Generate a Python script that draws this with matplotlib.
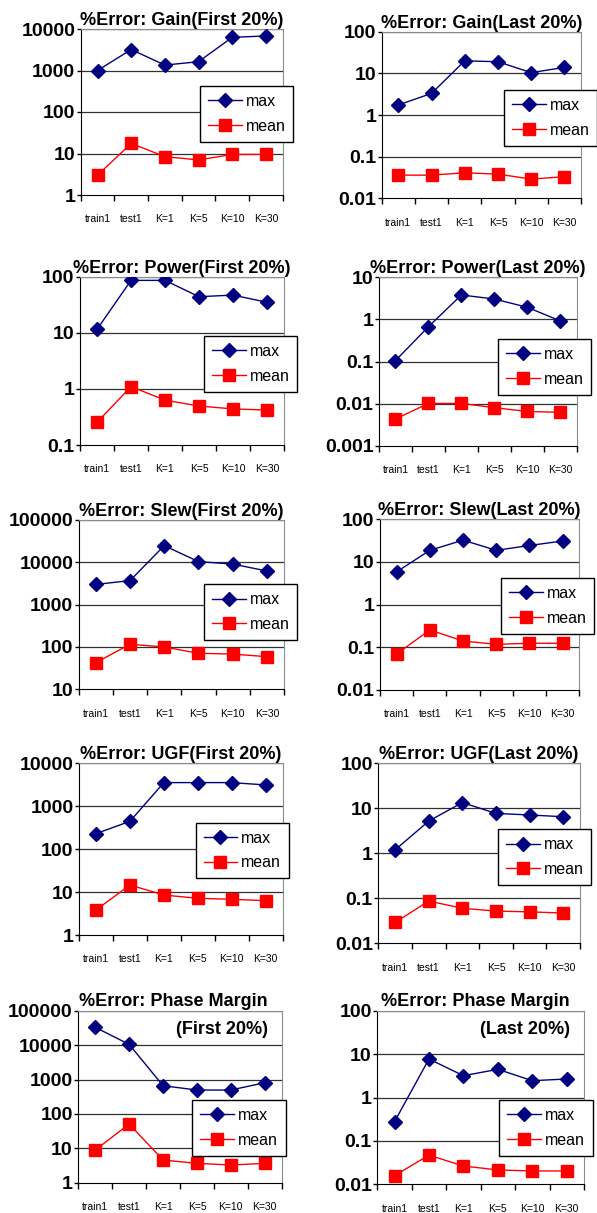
import matplotlib
matplotlib.use("Agg")
import matplotlib.pyplot as plt
from matplotlib.ticker import FixedLocator, NullLocator

plt.rcParams['font.family'] = ['Liberation Sans', 'DejaVu Sans']

# ---- data ----
categories = ["train1", "test1", "K=1", "K=5", "K=10", "K=30"]

gain_first_max = [1000, 3200, 1350, 1630, 6300, 6800]
gain_first_mean = [3.0, 17.5, 8.4, 7.0, 9.5, 9.5]
gain_last_max = [1.74, 3.3, 20, 19, 10.4, 13.9]
gain_last_mean = [0.036, 0.036, 0.041, 0.038, 0.029, 0.033]

power_first_max = [11.5, 86, 86, 44, 47, 35]
power_first_mean = [0.253, 1.1, 0.63, 0.495, 0.44, 0.42]
power_last_max = [0.105, 0.67, 3.8, 3.05, 1.94, 0.92]
power_last_mean = [0.0043, 0.0101, 0.0101, 0.008, 0.0065, 0.0062]

slew_first_max = [3000, 3700, 24800, 10400, 9100, 6240]
slew_first_mean = [42.6, 116, 100, 71, 68, 59]
slew_last_max = [5.8, 18.5, 32, 18.5, 24, 30.6]
slew_last_mean = [0.0695, 0.254, 0.14, 0.117, 0.124, 0.124]

ugf_first_max = [230, 445, 3550, 3550, 3550, 3130]
ugf_first_mean = [3.83, 14.6, 8.55, 7.15, 6.8, 6.3]
ugf_last_max = [1.19, 5.2, 13.4, 7.7, 7.1, 6.5]
ugf_last_mean = [0.029, 0.087, 0.060, 0.052, 0.050, 0.047]

pm_first_max = [32800, 10500, 660, 494, 494, 807]
pm_first_mean = [8.9, 50.7, 4.56, 3.65, 3.27, 3.65]
pm_last_max = [0.277, 7.7, 3.18, 4.46, 2.44, 2.67]
pm_last_mean = [0.0158, 0.047, 0.0264, 0.0214, 0.0203, 0.0203]

titles = ["%Error: Gain(First 20%)", "%Error: Gain(Last 20%)",
          "%Error: Power(First 20%)", "%Error: Power(Last 20%)",
          "%Error: Slew(First 20%)", "%Error: Slew(Last 20%)",
          "%Error: UGF(First 20%)", "%Error: UGF(Last 20%)",
          "%Error: Phase Margin", "%Error: Phase Margin"]
subtitles = [None] * 8 + ["(First 20%)", "(Last 20%)"]

max_series = [gain_first_max, gain_last_max, power_first_max, power_last_max,
              slew_first_max, slew_last_max, ugf_first_max, ugf_last_max,
              pm_first_max, pm_last_max]
mean_series = [gain_first_mean, gain_last_mean, power_first_mean, power_last_mean,
               slew_first_mean, slew_last_mean, ugf_first_mean, ugf_last_mean,
               pm_first_mean, pm_last_mean]
ylims = [(1, 1e4), (0.01, 100), (0.1, 100), (0.001, 10), (10, 1e5),
         (0.01, 100), (1, 1e4), (0.01, 100), (1, 1e5), (0.01, 100)]

# ---- layout (pixels) ----
W, H = 597, 1213
# left, right, top, bottom of each plot area
boxes = [(80.7, 282.7, 29, 195), (381.7, 581, 31.7, 198.3),
         (80, 284, 276.7, 445), (379, 576.7, 277.3, 445.7),
         (78.7, 284, 520, 689.3), (380, 579.3, 519, 690),
         (79, 282.7, 763.3, 935), (378.3, 580, 763.3, 943.3),
         (78.3, 281.7, 1010.7, 1182.7), (377.3, 584, 1010.7, 1184.3)]
# legend upper-left corners
legpos = [(200, 86), (504, 90), (204, 336), (498, 339), (204, 584.3),
          (501, 578), (195.7, 822.7), (498, 829.3), (192.3, 1100), (499.3, 1100)]
# right edge of the two-line phase margin titles
pm_title_right = {8: 268, 9: 570}

fig = plt.figure(figsize=(W / 100, H / 100), dpi=100)

xpos = [i + 0.5 for i in range(len(categories))]

for i in range(10):
    l, r, t, b = boxes[i]
    ax = fig.add_axes([l / W, 1 - b / H, (r - l) / W, (b - t) / H])
    ax.set_yscale('log')
    lo, hi = ylims[i]
    ax.set_ylim(lo, hi)
    ax.set_xlim(0, 6)

    decades = []
    v = lo
    while v <= hi * 1.001:
        decades.append(v)
        v *= 10
    ax.yaxis.set_major_locator(FixedLocator(decades))
    ax.yaxis.set_minor_locator(NullLocator())
    ax.set_yticklabels(["{:g}".format(d) for d in decades])
    for d in decades[1:]:
        ax.axhline(d, color='#303030', lw=0.9, zorder=1)

    ax.set_xticks(range(7))
    ax.set_xticklabels([])
    ax.set_xticks(xpos, minor=True)
    ax.set_xticklabels(categories, minor=True)
    ax.tick_params(axis='x', which='major', length=4, width=1, direction='out')
    ax.tick_params(axis='x', which='minor', length=0, pad=14, labelsize=7.5)
    ax.tick_params(axis='y', which='major', length=3, width=1, direction='out',
                   pad=1, labelsize=14)
    for lab in ax.get_yticklabels():
        lab.set_fontweight('bold')

    ax.spines['left'].set_color('black')
    ax.spines['bottom'].set_color('black')
    ax.spines['right'].set_color('#8c8c8c')
    ax.spines['top'].set_color('#8c8c8c')

    ax.plot(xpos, max_series[i], color='#000080', lw=1.0, marker='D', ms=7,
            label='max', zorder=3)
    ax.plot(xpos, mean_series[i], color='#ff0000', lw=1.0, marker='s', ms=8.5,
            label='mean', zorder=3)

    lx, ly = legpos[i]
    leg = ax.legend(loc='upper left', bbox_to_anchor=(lx / W, 1 - ly / H),
                    bbox_transform=fig.transFigure, borderaxespad=0,
                    fontsize=11.5, fancybox=False, framealpha=1, edgecolor='black',
                    handlelength=2.1, handletextpad=0.25, labelspacing=0.6,
                    borderpad=0.5)
    leg.get_frame().set_linewidth(1.0)

    if subtitles[i] is None:
        ax.set_title(titles[i], fontsize=13, fontweight='bold', pad=2.5)
    else:
        xr = pm_title_right[i] / W
        fig.text(xr, 1 - 1006 / H, titles[i], ha='right', va='baseline',
                 fontsize=13, fontweight='bold')
        fig.text(xr, 1 - 1034 / H, subtitles[i], ha='right', va='baseline',
                 fontsize=13, fontweight='bold')

fig.savefig("out.png", dpi=100)
